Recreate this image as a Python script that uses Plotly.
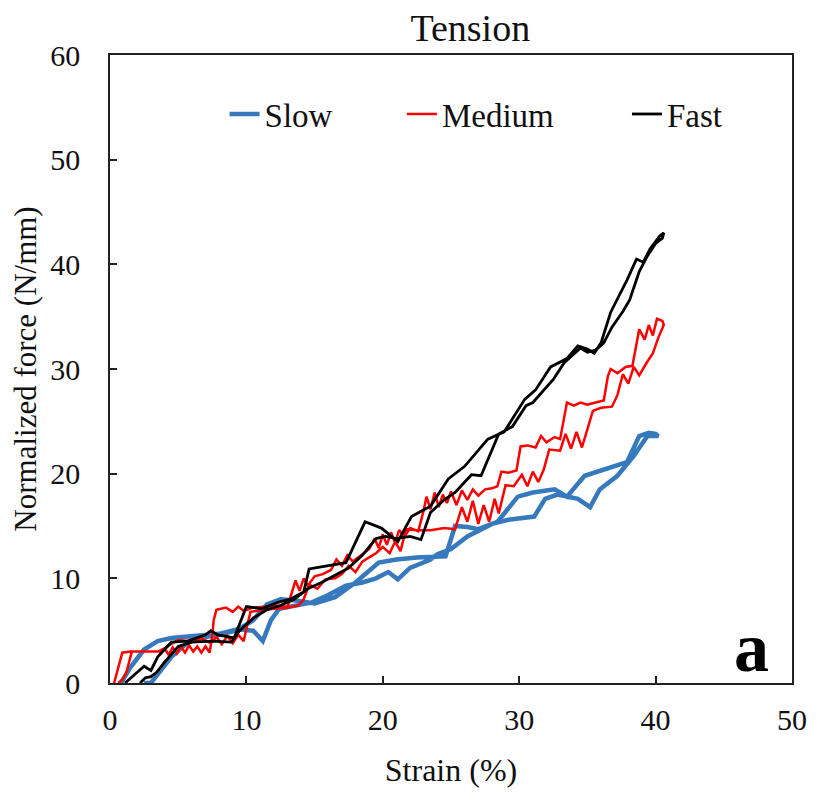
import plotly.graph_objects as go

# ---- data (strain %, normalized force N/mm); each series is a load/unload loop ----
slow_strain = [0.8, 1.5, 2.5, 3.5, 4.5, 6.0, 8.0, 9.5, 10.5, 11.5, 12.5, 13.5, 15.0, 16.5, 18.0,
               19.7, 21.0, 22.5, 24.0, 24.6, 25.3, 26.2, 27.0, 28.4, 29.9, 31.0, 32.6, 33.5, 34.8,
               36.0, 37.0, 37.9, 38.8, 39.5, 40.0,
               40.2, 39.4, 38.4, 37.2, 35.9, 35.2, 34.3, 32.8, 31.9, 31.1, 29.2, 28.0, 26.2, 25.0,
               24.0, 23.5, 22.0, 21.1, 20.4, 19.5, 18.5, 17.3, 16.0, 14.8, 13.5, 12.4, 11.8, 11.2,
               10.5, 9.5, 8.0, 6.0, 4.5, 3.5, 3.0, 2.5]
slow_force = [0.0, 1.5, 3.2, 4.0, 4.3, 4.5, 4.7, 5.2, 6.0, 7.5, 8.0, 7.9, 7.6, 8.2, 9.6,
              11.5, 11.8, 12.0, 12.1, 12.1, 15.0, 14.9, 14.7, 15.4, 17.8, 18.2, 18.5, 17.8, 19.8,
              20.3, 20.7, 21.1, 23.6, 23.9, 23.8,
              23.6, 23.6, 21.7, 19.8, 18.5, 16.8, 17.6, 18.0, 17.6, 15.9, 15.6, 15.2, 14.0, 12.8,
              12.3, 11.8, 11.0, 9.9, 10.6, 10.0, 9.6, 9.3, 8.4, 7.7, 7.4, 7.1, 6.0, 4.0,
              5.0, 5.1, 4.6, 4.2, 2.5, 0.8, 0.0, 0.0]

medium_strain = [0.3, 0.6, 0.9, 1.5, 2.5, 3.5, 4.0, 4.3, 4.6, 4.9, 5.2, 5.5, 5.8, 6.1, 6.4, 6.7,
                 7.0, 7.3, 7.5, 7.6, 7.8, 8.5, 9.0, 9.4, 9.8, 10.5, 11.5, 12.5, 13.0, 13.3, 13.6,
                 13.9, 14.2, 14.5, 15.0, 15.6, 16.2, 16.6, 17.0, 17.4, 17.8, 18.5, 19.0, 19.4,
                 19.7, 20.0, 20.3, 20.6, 20.9, 21.2, 21.6, 22.0, 22.6, 23.0, 23.2, 23.5, 23.8,
                 24.1, 24.4, 24.7, 25.0, 25.4, 25.8, 26.2, 26.6, 27.0, 27.5, 28.0, 28.4, 28.7,
                 29.2, 29.8, 30.1, 30.6, 31.2, 31.6, 32.0, 32.6, 33.0, 33.5, 34.0, 34.5, 35.0,
                 35.6, 36.2, 36.5, 36.7, 37.2, 37.8, 38.3, 38.8, 39.2, 39.5, 39.8, 40.1, 40.5,
                 40.6, 40.2, 39.8, 39.3, 38.8, 38.4, 38.0, 37.6, 37.2, 36.8, 36.0, 35.4, 35.0,
                 34.6, 34.2, 33.8, 33.4, 33.0, 32.2, 31.8, 31.4, 31.0, 30.6, 30.2, 29.6, 29.0,
                 28.5, 28.2, 27.8, 27.4, 27.0, 26.6, 26.2, 25.8, 25.3, 24.5, 23.5, 22.5, 21.7,
                 21.3, 20.9, 20.5, 20.0, 19.5, 19.0, 18.5, 18.0, 17.5, 17.0, 16.5, 15.8, 15.2,
                 14.6, 14.2, 13.8, 13.0, 12.0, 11.0, 10.3, 10.0, 9.8, 9.4, 9.0, 8.6, 8.2, 7.8,
                 7.4, 6.8, 6.0, 5.0, 4.3, 3.8, 3.0, 2.2, 1.6, 1.2, 0.9, 0.6]
medium_force = [0.0, 1.5, 2.9, 3.0, 3.0, 3.0, 3.3, 2.7, 3.4, 2.8, 3.5, 2.9, 3.6, 3.0, 3.5, 2.9,
                3.5, 2.9, 4.5, 6.0, 7.0, 7.2, 6.8, 7.3, 6.9, 7.2, 7.3, 7.4, 7.2, 8.5, 9.8,
                8.8, 10.0, 9.3, 10.2, 10.4, 10.8, 11.8, 11.2, 12.2, 11.6, 12.3, 12.8, 13.8,
                12.9, 14.2, 13.2, 14.4, 13.4, 14.6, 14.0, 14.8, 14.5, 16.5, 17.8, 16.6, 18.2,
                16.8, 18.0, 17.2, 18.3, 17.0, 18.4, 17.5, 18.5, 17.9, 18.5, 18.6, 18.8, 20.2,
                20.1, 20.3, 22.6, 22.7, 22.5, 23.6, 23.0, 23.5, 23.3, 26.8, 26.5, 26.8, 26.6,
                26.8, 27.0, 29.3, 30.0, 29.6, 30.2, 30.3, 33.8, 32.8, 34.2, 33.2, 34.8, 34.6,
                34.2, 33.0, 31.5, 30.5, 29.4, 30.2, 28.6, 29.5, 27.5, 26.4, 26.3, 26.0, 24.2,
                22.5, 24.0, 22.4, 23.8, 22.2, 22.3, 20.4, 19.2, 20.2, 18.8, 19.9, 18.8, 18.9,
                16.2, 17.6, 15.4, 17.0, 15.2, 17.4, 15.4, 16.8, 14.7, 14.8, 14.6, 14.6, 14.7,
                12.6, 13.5, 12.4, 13.0, 12.4, 12.0, 11.6, 10.6, 11.2, 10.4, 10.0, 9.9, 9.0,
                9.4, 8.0, 7.4, 7.2, 7.1, 6.9, 6.8, 5.2, 4.0, 4.6, 3.8, 4.5, 3.7, 4.4,
                3.8, 4.2, 4.0, 4.1, 3.6, 3.0, 3.0, 3.0, 3.0, 1.0, 0.3, 0.0]

fast_strain = [1.1, 2.0, 2.5, 3.0, 3.5, 4.5, 5.7, 7.0, 7.4, 7.9, 9.1, 10.0, 11.1, 12.3, 13.2,
               14.2, 14.6, 17.3, 18.0, 18.7, 19.9, 21.1, 22.1, 23.5, 24.8, 26.0, 27.7, 28.9,
               30.4, 31.2, 32.3, 33.5, 34.3, 35.0, 35.5, 36.0, 36.7, 37.9, 38.6, 39.1, 39.6,
               40.3, 40.6,
               40.5, 40.0, 39.4, 38.8, 38.1, 37.6, 36.8, 36.2, 35.6, 35.0, 34.5, 33.3, 32.5,
               31.0, 30.5, 29.5, 28.5, 27.2, 26.5, 25.3, 24.5, 23.5, 22.8, 22.0, 21.0, 20.2,
               19.5, 18.5, 17.5, 16.5, 15.5, 14.5, 13.5, 12.5, 11.5, 10.5, 9.5, 8.9, 7.5, 6.0,
               5.0, 4.0, 3.4, 3.0, 2.6, 2.2]
fast_force = [0.0, 1.0, 1.6, 1.2, 2.5, 3.9, 4.0, 4.6, 5.0, 4.6, 4.3, 7.3, 7.1, 7.7, 8.0,
              8.7, 10.9, 11.5, 13.5, 15.4, 14.8, 13.5, 15.9, 16.9, 19.5, 20.7, 23.3, 24.0,
              27.1, 28.0, 30.2, 31.0, 32.2, 31.9, 31.5, 32.5, 35.4, 38.5, 40.5, 40.2, 41.5,
              42.7, 43.0,
              42.5, 42.0, 40.8, 39.3, 36.6, 35.5, 34.0, 32.5, 31.8, 31.6, 32.0, 30.6, 29.0,
              26.8, 26.5, 24.5, 23.8, 19.8, 19.9, 18.2, 17.5, 16.3, 13.7, 14.0, 13.8, 14.0,
              13.8, 12.2, 11.0, 10.3, 9.6, 9.0, 8.0, 7.4, 7.0, 6.2, 5.0, 3.9, 4.0, 3.9,
              3.5, 2.0, 1.0, 0.6, 0.5, 0.0]

series_names = ["Slow", "Medium", "Fast"]
x_ticks = [0, 10, 20, 30, 40, 50]
y_ticks = [0, 10, 20, 30, 40, 50, 60]

FONT = "Liberation Serif, Times New Roman, serif"
TXT = "#111111"

fig = go.Figure()
fig.add_trace(go.Scatter(x=slow_strain, y=slow_force, mode="lines", name=series_names[0],
                         line=dict(color="#3679BD", width=4.5), legend="legend"))
fig.add_trace(go.Scatter(x=medium_strain, y=medium_force, mode="lines", name=series_names[1],
                         line=dict(color="#FF0000", width=2.5), legend="legend2"))
fig.add_trace(go.Scatter(x=fast_strain, y=fast_force, mode="lines", name=series_names[2],
                         line=dict(color="#000000", width=2.8), legend="legend3"))

axis_common = dict(showgrid=False, zeroline=False, showline=True, linecolor="#222222",
                   linewidth=1.5, mirror=True, ticks="inside", ticklen=7, tickwidth=1.5,
                   tickcolor="#222222", tickfont=dict(family=FONT, size=30, color=TXT))

leg_common = dict(orientation="h", yanchor="middle", xanchor="left", y=0.906,
                  bgcolor="rgba(0,0,0,0)", font=dict(family=FONT, size=33, color=TXT))

fig.update_layout(
    width=811, height=786,
    margin=dict(l=102, r=23, t=47, b=110),
    paper_bgcolor="white", plot_bgcolor="white",
    font=dict(family=FONT, color=TXT),
    title=dict(text="Tension", x=0.570, xref="container", xanchor="center",
               y=0.975, yref="container", yanchor="middle",
               font=dict(family=FONT, size=38, color=TXT)),
    xaxis=dict(range=[0, 50], tickvals=x_ticks, ticklabelstandoff=9,
               title=dict(text="Strain (%)", font=dict(family=FONT, size=32, color=TXT),
                          standoff=24),
               **axis_common),
    yaxis=dict(range=[0, 60], tickvals=y_ticks, ticklabelstandoff=22,
               title=dict(text="Normalized force (N/mm)",
                          font=dict(family=FONT, size=31, color=TXT), standoff=9),
               **axis_common),
    legend=dict(x=0.168, **leg_common),
    legend2=dict(x=0.428, **leg_common),
    legend3=dict(x=0.758, **leg_common),
    showlegend=True,
)

fig.add_annotation(text="<b>a</b>", x=0.941, y=0.057, xref="paper", yref="paper",
                   xanchor="center", yanchor="middle",
                   showarrow=False, font=dict(family=FONT, size=70, color="#000000"))

fig.write_html("out.html")
